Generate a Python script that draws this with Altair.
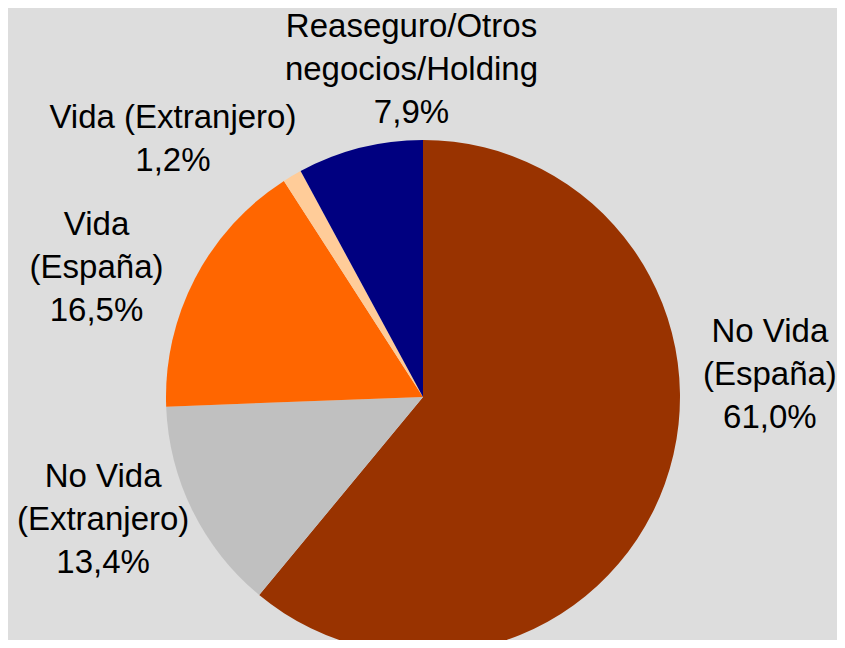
import altair as alt
import pandas as pd

categories = ["No Vida (España)", "No Vida (Extranjero)", "Vida (España)",
              "Vida (Extranjero)", "Reaseguro/Otros negocios/Holding"]
values = [61.0, 13.4, 16.5, 1.2, 7.9]
labels = ["No Vida\n(España)\n61,0%", "No Vida\n(Extranjero)\n13,4%",
          "Vida\n(España)\n16,5%", "Vida (Extranjero)\n1,2%",
          "Reaseguro/Otros\nnegocios/Holding\n7,9%"]
colors = ["#993300", "#C0C0C0", "#FF6600", "#FFCC99", "#000080"]

df = pd.DataFrame({"cat": categories, "val": values, "label": labels,
                   "idx": list(range(len(categories)))})

CX, CY = 415, 389

base = alt.Chart(df).encode(
    theta=alt.Theta("val:Q", stack=True),
    order=alt.Order("idx:Q", sort="ascending"),
    x=alt.value(CX),
    y=alt.value(CY),
)

pie = base.mark_arc(radius=257).encode(
    color=alt.Color("cat:N", scale=alt.Scale(domain=categories, range=colors),
                    legend=None)
)

# per-label nudges (style) from the mid-angle position
nudges = [(27, -180), (-15, -71), (-25, -15), (-77, 14), (72, -40)]

layers = [pie]
for cat, (ddx, ddy) in zip(categories, nudges):
    layers.append(
        base.mark_text(radius=340, dx=ddx, dy=ddy, lineBreak="\n", fontSize=33,
                       lineHeight=43, font="Liberation Sans", color="black",
                       align="center", baseline="middle")
        .encode(text=alt.condition(alt.datum.cat == cat, "label:N", alt.value("")))
    )

chart = alt.layer(*layers).properties(
    width=829, height=632, padding=0, background="#DDDDDD",
    autosize=alt.AutoSizeParams(type="none"),
).configure_view(stroke=None)

chart.save("out.html", embed_options={"renderer": "svg", "actions": False})
